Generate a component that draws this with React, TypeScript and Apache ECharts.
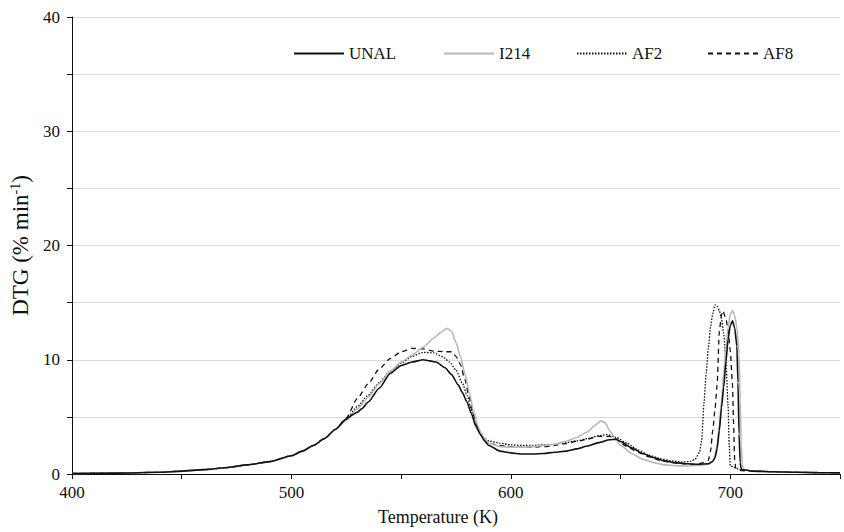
import React, { useEffect, useRef } from "react";
import * as echarts from "echarts";

const FONT = "'Liberation Serif', 'Times New Roman', serif";

const xTicksLabel = [400, 500, 600, 700];
const yTicksLabel = [0, 10, 20, 30, 40];

// Common low-temperature part (all samples overlap)
const baseT = [400, 420, 440, 450, 460, 470, 480, 490, 500, 505, 510, 515, 520];
const baseV = [0.05, 0.08, 0.15, 0.25, 0.38, 0.55, 0.8, 1.08, 1.6, 2.0, 2.5, 3.1, 3.9];

const unalT = [525, 528, 530, 532, 535, 540, 545, 550, 555, 560, 563, 566, 570, 573, 576, 578, 580, 582, 584, 586, 588, 590, 595, 600, 605, 610, 615, 620, 625, 630, 635, 640, 645, 648, 650, 655, 660, 665, 670, 675, 680, 685, 690, 692, 693, 694, 695, 696, 697, 698, 699, 700, 701, 702, 703, 703.5, 704, 704.5, 705, 710, 720, 730, 740, 750];
const unalV = [4.8, 5.2, 5.4, 5.7, 6.3, 7.5, 8.8, 9.5, 9.8, 10.0, 9.9, 9.8, 9.3, 8.7, 7.8, 7.1, 6.3, 5.3, 4.2, 3.5, 2.9, 2.5, 2.0, 1.85, 1.75, 1.75, 1.8, 1.9, 2.0, 2.2, 2.45, 2.75, 3.0, 3.05, 2.85, 2.3, 1.8, 1.45, 1.15, 1.0, 0.9, 0.85, 0.9, 1.1, 1.4, 2.2, 3.8, 5.8, 7.6, 9.8, 11.8, 13.0, 13.4, 12.8, 11.2, 8.0, 3.5, 1.0, 0.4, 0.25, 0.2, 0.15, 0.12, 0.1];

const i214T = [525, 530, 535, 540, 545, 550, 555, 560, 565, 568, 571, 573, 575, 577, 579, 581, 583, 585, 587, 590, 595, 600, 605, 610, 615, 620, 625, 630, 635, 638, 641, 643, 645, 648, 650, 655, 660, 665, 670, 675, 680, 685, 690, 692, 693, 694, 695, 696, 697, 698, 699, 700, 701, 702, 703, 704, 704.5, 705, 705.5, 706, 710, 720, 730, 740, 750];
const i214V = [4.7, 5.7, 6.7, 7.9, 9.0, 9.8, 10.4, 11.1, 11.9, 12.4, 12.75, 12.5, 11.5, 10.3, 8.8, 7.2, 5.5, 4.2, 3.3, 2.7, 2.4, 2.35, 2.35, 2.4, 2.5, 2.6, 2.85, 3.2, 3.7, 4.2, 4.65, 4.5, 3.8, 3.0, 2.5, 1.8, 1.3, 1.0, 0.8, 0.72, 0.7, 0.75, 0.85, 1.1, 1.6, 2.6, 4.3, 6.4, 8.8, 11.0, 12.8, 14.0, 14.3, 13.9, 12.8, 10.5, 6.5, 2.5, 0.8, 0.4, 0.25, 0.2, 0.15, 0.12, 0.1];

const af2T = [525, 530, 535, 540, 545, 550, 555, 560, 565, 569, 572, 575, 578, 580, 582, 584, 586, 588, 590, 595, 600, 605, 610, 615, 620, 625, 630, 635, 640, 644, 648, 653, 658, 663, 668, 673, 678, 682, 684, 686, 687, 688, 689, 690, 691, 692, 693, 694, 695, 696, 697, 698, 699, 699.5, 700, 705, 710, 720, 730, 740, 750];
const af2V = [4.8, 5.9, 6.9, 8.0, 9.0, 9.7, 10.3, 10.65, 10.6, 10.25, 9.8, 9.1, 7.9, 6.9, 5.6, 4.4, 3.6, 3.1, 2.9, 2.7, 2.55, 2.5, 2.5, 2.55, 2.6, 2.75, 2.9, 3.1, 3.35, 3.45, 3.2, 2.7, 2.1, 1.65, 1.35, 1.15, 1.05, 1.1, 1.3, 1.9, 3.0, 6.2, 8.8, 11.0, 12.9, 14.0, 14.8, 14.7, 14.3, 13.6, 12.3, 10.0, 6.0, 2.5, 0.7, 0.35, 0.3, 0.2, 0.15, 0.12, 0.1];

const af8T = [525, 530, 535, 540, 545, 550, 555, 560, 565, 570, 573, 575, 577, 579, 581, 583, 585, 587, 590, 595, 600, 605, 610, 615, 620, 625, 630, 635, 640, 645, 648, 653, 658, 663, 668, 673, 678, 683, 687, 690, 691, 692, 693, 694, 695, 696, 696.6, 698, 699, 700, 701, 701.5, 702, 702.5, 705, 710, 720, 730, 740, 750];
const af8V = [4.9, 6.6, 7.9, 9.2, 10.1, 10.7, 11.0, 10.95, 10.75, 10.7, 10.7, 10.3, 9.6, 8.3, 6.7, 5.2, 4.0, 3.2, 2.7, 2.5, 2.4, 2.35, 2.35, 2.4, 2.5, 2.65, 2.85, 3.05, 3.3, 3.3, 3.0, 2.4, 1.9, 1.5, 1.2, 1.0, 0.9, 0.85, 0.95, 1.2, 2.0, 3.8, 5.6, 7.8, 12.5, 13.9, 14.3, 13.6, 12.6, 10.8, 7.8, 4.5, 1.2, 0.5, 0.3, 0.25, 0.2, 0.15, 0.12, 0.1];

const seriesNames = ["UNAL", "I214", "AF2", "AF8"];

function pairs(t: number[], v: number[]) {
  const all: number[][] = [];
  baseT.forEach((x, i) => all.push([x, baseV[i]]));
  t.forEach((x, i) => all.push([x, v[i]]));
  return all;
}

export default function App() {
  const ref = useRef<HTMLDivElement>(null);
  useEffect(() => {
    document.body.style.margin = "0";
    const chart = echarts.init(ref.current!, null, { renderer: "svg" });
    const styles = [
      { color: "#111111", width: 1.6, type: "solid" as any },
      { color: "#b8b8b8", width: 1.6, type: "solid" as any },
      { color: "#111111", width: 1.3, type: [1.5, 1.5] as any },
      { color: "#111111", width: 1.3, type: [5, 4] as any },
    ];
    const datas = [pairs(unalT, unalV), pairs(i214T, i214V), pairs(af2T, af2V), pairs(af8T, af8V)];
    const legendLefts = [288, 438, 571, 702];
    chart.setOption({
      animation: false,
      backgroundColor: "#ffffff",
      textStyle: { fontFamily: FONT },
      grid: { left: 72, right: 4, top: 17, bottom: 58, containLabel: false },
      legend: seriesNames.map((n, i) => ({
        data: [n],
        left: legendLefts[i],
        top: 40,
        itemWidth: 50,
        itemHeight: 14,
        itemGap: 0,
        itemStyle: { opacity: 0 },
        textStyle: { fontFamily: FONT, fontSize: 17, color: "#111" },
      })),
      xAxis: {
        type: "value",
        min: 400,
        max: 750,
        interval: 50,
        name: "Temperature (K)",
        nameLocation: "middle",
        nameGap: 34,
        nameTextStyle: { fontFamily: FONT, fontSize: 18, color: "#111", padding: [0, 36, 0, 0] },
        axisLine: { show: true, lineStyle: { color: "#111", width: 1 } },
        axisTick: { show: true, inside: false, length: 5, lineStyle: { color: "#111" } },
        axisLabel: {
          fontFamily: FONT,
          fontSize: 17,
          color: "#111",
          margin: 10,
          formatter: (v: number) => (xTicksLabel.includes(v) ? String(v) : ""),
        },
        splitLine: { show: false },
      },
      yAxis: {
        type: "value",
        min: 0,
        max: 40,
        interval: 5,
        name: "DTG (% min{sup|-1})",
        nameLocation: "middle",
        nameGap: 39,
        nameRotate: 90,
        nameTextStyle: {
          fontFamily: FONT,
          fontSize: 23,
          color: "#111",
          rich: { sup: { fontFamily: FONT, fontSize: 14, color: "#111", verticalAlign: "top", padding: [0, 0, 10, 0] } },
        },
        axisLine: { show: true, lineStyle: { color: "#111", width: 1 } },
        axisTick: { show: true, inside: false, length: 5, lineStyle: { color: "#111" } },
        axisLabel: {
          fontFamily: FONT,
          fontSize: 17,
          color: "#111",
          margin: 12,
          formatter: (v: number) => (yTicksLabel.includes(v) ? String(v) : ""),
        },
        splitLine: { show: true, lineStyle: { color: "#d9d9d9", width: 1 } },
      },
      series: seriesNames.map((n, i) => ({
        name: n,
        type: "line",
        data: datas[i],
        symbol: "none",
        showSymbol: false,
        smooth: 0.2,
        smoothMonotone: "x",
        lineStyle: styles[i],
        itemStyle: { color: styles[i].color },
        z: 4 - i,
      })),
    });
    return () => chart.dispose();
  }, []);
  return <div ref={ref} style={{ width: 844, height: 532, position: "fixed", left: 0, top: 0 }} />;
}
